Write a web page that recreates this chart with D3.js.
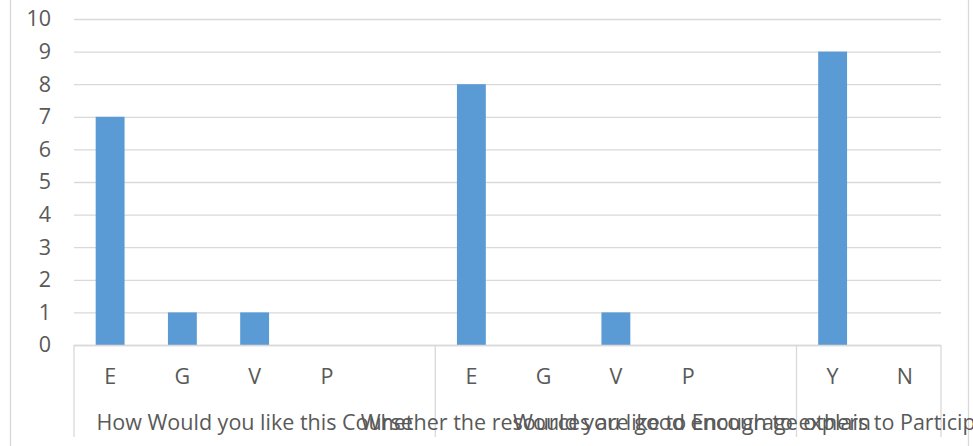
<!DOCTYPE html>
<html>
<head>
<meta charset="utf-8">
<script src="https://cdn.jsdelivr.net/npm/d3@7"></script>
<style>
  html, body { margin: 0; padding: 0; background: #fff; }
  svg { display: block; font-family: "Open Sans", sans-serif; }
</style>
</head>
<body>
<svg id="chart" width="973" height="446"></svg>
<script>
// Survey questions (outer axis level) and how many answer slots each one spans
const questions = [
  "How Would you like this Course",
  "Whether the resources are good enough to explain",
  "Would you like to Encourage others to Participate in this kind of Course"
];
const questionSlots = [5, 5, 2];

// Answer codes (inner axis level), one per slot; empty strings are spacer slots
const answers = ["E", "G", "V", "P", "", "E", "G", "V", "P", "", "Y", "N"];

// Response counts per slot
const counts = [7, 1, 1, 0, null, 8, 0, 1, 0, null, 9, 0];

// Value axis ticks
const yTicks = [0, 1, 2, 3, 4, 5, 6, 7, 8, 9, 10];

const W = 973, H = 446;
const plot = { left: 74, right: 941, top: 19, bottom: 345 };
const textColor = "#595959";
const gridColor = "#D9D9D9";
const barColor = "#5B9BD5";
const fontSize = 21.5;

const svg = d3.select("#chart");

// Chart frame edges
svg.append("g").selectAll("line")
  .data([10.5, 968.5])
  .join("line")
  .attr("x1", d => d).attr("x2", d => d)
  .attr("y1", 0).attr("y2", H)
  .attr("stroke", gridColor).attr("stroke-width", 1.3);

const slotIds = answers.map((_, i) => i);
const x = d3.scaleBand().domain(slotIds).range([plot.left, plot.right]).padding(0);
const y = d3.scaleLinear().domain([0, 10]).range([plot.bottom, plot.top]);

// Horizontal gridlines with value labels
const yAxis = d3.axisLeft(y).tickValues(yTicks).tickSize(-(plot.right - plot.left)).tickPadding(23);
const gy = svg.append("g").attr("transform", `translate(${plot.left},0)`).call(yAxis);
gy.select(".domain").remove();
gy.selectAll(".tick line").attr("stroke", gridColor).attr("stroke-width", 1.3);
gy.selectAll(".tick text")
  .attr("fill", textColor).attr("font-size", fontSize).attr("font-family", "'Open Sans', sans-serif");

// Bars, gap width 150% of bar width
const barW = x.bandwidth() / 2.5;
svg.append("g").selectAll("rect")
  .data(counts.map((v, i) => ({ i, v })).filter(d => d.v))
  .join("rect")
  .attr("x", d => x(d.i) + (x.bandwidth() - barW) / 2)
  .attr("width", barW)
  .attr("y", d => y(d.v))
  .attr("height", d => y(0) - y(d.v))
  .attr("fill", barColor);

// Category axis baseline
svg.append("line")
  .attr("x1", plot.left).attr("x2", plot.right)
  .attr("y1", y(0) + 0.5).attr("y2", y(0) + 0.5)
  .attr("stroke", gridColor).attr("stroke-width", 1.3);

// Group separators on the multi-level axis
let acc = 0;
const bounds = [0];
questionSlots.forEach(n => { acc += n; bounds.push(acc); });
const sepX = i => (i < answers.length ? x(i) : plot.right);
svg.append("g").selectAll("line")
  .data(bounds)
  .join("line")
  .attr("x1", d => sepX(d)).attr("x2", d => sepX(d))
  .attr("y1", y(0)).attr("y2", 437)
  .attr("stroke", gridColor).attr("stroke-width", 1.3);

// Inner labels (answer codes)
svg.append("g").selectAll("text")
  .data(answers.map((a, i) => ({ a, i })).filter(d => d.a))
  .join("text")
  .attr("x", d => x(d.i) + x.bandwidth() / 2)
  .attr("y", 384)
  .attr("text-anchor", "middle")
  .attr("fill", textColor).attr("font-size", fontSize)
  .text(d => d.a);

// Outer labels (questions), centred under their group
svg.append("g").selectAll("text")
  .data(questions.map((q, k) => ({ q, k })))
  .join("text")
  .attr("x", d => (sepX(bounds[d.k]) + sepX(bounds[d.k + 1])) / 2)
  .attr("y", 430)
  .attr("text-anchor", "middle")
  .attr("fill", textColor).attr("font-size", fontSize)
  .text(d => d.q);
</script>
</body>
</html>
